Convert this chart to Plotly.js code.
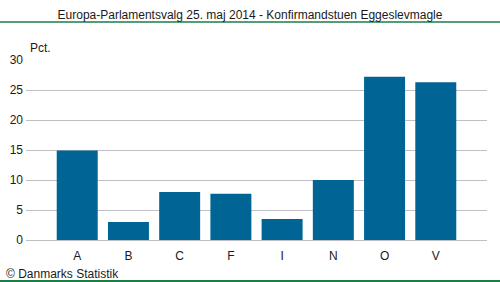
<!DOCTYPE html>
<html><head><meta charset="utf-8">
<script src="https://cdn.plot.ly/plotly-3.0.1.min.js"></script>
<style>html,body{margin:0;padding:0;background:#fff}#chart{width:500px;height:282px}</style>
</head><body><div id="chart"></div>
<script>
var categories = ["A","B","C","F","I","N","O","V"];
var values = [14.9, 3.0, 8.0, 7.7, 3.5, 10.0, 27.2, 26.3];
var yTicks = [0,5,10,15,20,25,30];

var font = {family:"Liberation Sans, Arial, sans-serif", size:12, color:"#1a1a1a"};
Plotly.newPlot("chart", [{
  type:"bar", x:categories, y:values, marker:{color:"#006494"}, hoverinfo:"none"
}], {
  width:500, height:282,
  margin:{l:26, r:13, t:60, b:42},
  paper_bgcolor:"#fff", plot_bgcolor:"#fff",
  font:font,
  bargap:0.2,
  showlegend:false,
  title:{text:"Europa-Parlamentsvalg 25. maj 2014 - Konfirmandstuen Eggeslevmagle", x:0.5, xanchor:"center", y:1-15/282, yanchor:"middle", font:{family:font.family, size:12, color:"#1a1a1a"}},
  xaxis:{type:"category", range:[-1,8], showgrid:false, zeroline:false, showline:false, ticks:"", ticklabelstandoff:7, tickfont:font, fixedrange:true},
  yaxis:{range:[0,30], tickvals:yTicks, ticktext:yTicks.map(String), gridcolor:"#c0bfc6", gridwidth:1, zeroline:true, zerolinecolor:"#c0bfc6", zerolinewidth:1, showline:false, ticks:"", ticklabelstandoff:2, tickfont:font, fixedrange:true},
  shapes:[
    {type:"line", xref:"paper", yref:"paper", x0:-26/461, x1:1+13/461, y0:1+38/180, y1:1+38/180, line:{color:"#1e7d45", width:1.5}},
    {type:"line", xref:"paper", yref:"paper", x0:-26/461, x1:1+13/461, y0:-41/180, y1:-41/180, line:{color:"#1e7d45", width:2}}
  ],
  annotations:[
    {text:"Pct.", xref:"paper", yref:"paper", x:2/461, y:1+12/180, xanchor:"left", yanchor:"middle", showarrow:false, font:font},
    {text:"© Danmarks Statistik", xref:"paper", yref:"paper", x:-22/461, y:-33.5/180, xanchor:"left", yanchor:"middle", showarrow:false, font:font}
  ]
}, {staticPlot:true, displayModeBar:false});
</script></body></html>
